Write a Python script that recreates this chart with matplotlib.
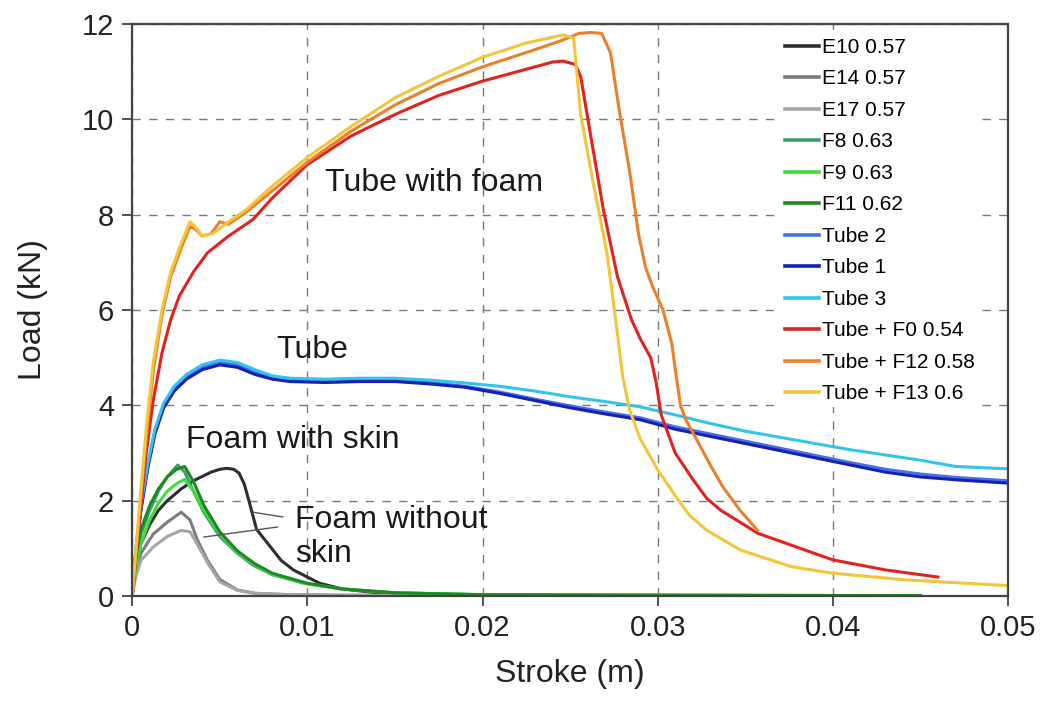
import matplotlib
matplotlib.use("Agg")
import matplotlib.pyplot as plt

plt.rcParams["font.family"] = ["Liberation Sans", "DejaVu Sans"]

# --- foam only ---
e10_x = [0, 0.0002, 0.0005, 0.001, 0.0015, 0.002, 0.0028, 0.0035, 0.0045, 0.005, 0.0054, 0.0058,
         0.0061, 0.0064, 0.0067, 0.0071, 0.0079, 0.0085, 0.0092, 0.0107, 0.012, 0.014, 0.017, 0.02]
e10_y = [0, 0.6, 1.1, 1.5, 1.8, 2.0, 2.25, 2.42, 2.6, 2.66, 2.68, 2.66,
         2.58, 2.35, 1.95, 1.4, 1.03, 0.75, 0.55, 0.27, 0.15, 0.07, 0.03, 0.02]

e_x = [0, 0.0002, 0.0005, 0.0012, 0.002, 0.0028, 0.0033, 0.0037, 0.0043, 0.005, 0.006, 0.007,
       0.009, 0.012, 0.02, 0.045]
e14_y = [0, 0.5, 0.9, 1.3, 1.55, 1.76, 1.6, 1.2, 0.75, 0.35, 0.13, 0.06, 0.03, 0.02, 0.01, 0.0]
e17_y = [0, 0.4, 0.75, 1.03, 1.25, 1.38, 1.35, 1.1, 0.7, 0.3, 0.12, 0.06, 0.03, 0.02, 0.01, 0.0]

f8_x = [0, 0.0002, 0.0005, 0.001, 0.0015, 0.002, 0.0026, 0.003, 0.0035, 0.0041, 0.005, 0.006,
        0.0069, 0.008, 0.0098, 0.012, 0.015, 0.02, 0.03, 0.045]
f8_y = [0, 0.7, 1.3, 1.8, 2.2, 2.5, 2.75, 2.6, 2.2, 1.75, 1.25, 0.9,
        0.65, 0.45, 0.27, 0.15, 0.07, 0.03, 0.02, 0.01]
f_x = [0, 0.0002, 0.0005, 0.001, 0.0015, 0.002, 0.0025, 0.003, 0.0035, 0.0041, 0.005, 0.006,
       0.007, 0.008, 0.010, 0.012, 0.015, 0.02, 0.03, 0.045]
f9_y = [0, 0.6, 1.1, 1.6, 1.95, 2.2, 2.35, 2.45, 2.2, 1.8, 1.3, 0.92,
        0.66, 0.46, 0.26, 0.15, 0.07, 0.03, 0.02, 0.01]
f11_y = [0, 0.8, 1.4, 1.9, 2.25, 2.5, 2.65, 2.72, 2.4, 1.9, 1.35, 0.95,
         0.68, 0.48, 0.27, 0.15, 0.07, 0.03, 0.02, 0.01]

# --- empty tubes ---
tube_x = [0, 0.0002, 0.0005, 0.0009, 0.0013, 0.0018, 0.0024, 0.0031, 0.004, 0.005, 0.006, 0.007,
          0.008, 0.009, 0.011, 0.013, 0.015, 0.017, 0.019, 0.021, 0.023, 0.025, 0.027, 0.029,
          0.031, 0.033, 0.035, 0.037, 0.039, 0.041, 0.043, 0.045, 0.047, 0.050]
tube1_y = [0, 0.9, 1.8, 2.7, 3.4, 3.95, 4.3, 4.55, 4.75, 4.85, 4.8, 4.65,
           4.55, 4.5, 4.48, 4.5, 4.5, 4.45, 4.38, 4.25, 4.1, 3.95, 3.82, 3.7,
           3.5, 3.35, 3.2, 3.05, 2.9, 2.75, 2.6, 2.5, 2.44, 2.37]
tube2_y = [0, 0.95, 1.85, 2.75, 3.45, 4.0, 4.35, 4.6, 4.8, 4.9, 4.85, 4.7,
           4.6, 4.55, 4.52, 4.53, 4.53, 4.48, 4.4, 4.28, 4.13, 3.99, 3.86, 3.74,
           3.55, 3.4, 3.25, 3.1, 2.95, 2.8, 2.66, 2.56, 2.49, 2.42]
tube3_y = [0, 0.95, 1.9, 2.8, 3.5, 4.05, 4.4, 4.65, 4.85, 4.95, 4.9, 4.75,
           4.62, 4.57, 4.55, 4.57, 4.57, 4.53, 4.47, 4.4, 4.3, 4.18, 4.08, 3.97,
           3.8, 3.62, 3.46, 3.33, 3.2, 3.07, 2.96, 2.85, 2.72, 2.67]

# --- tubes filled with foam ---
f0_x = [0, 0.0004, 0.0008, 0.0012, 0.0017, 0.0022, 0.0027, 0.0035, 0.0043, 0.0055, 0.0069, 0.008,
        0.010, 0.0125, 0.015, 0.0175, 0.020, 0.0225, 0.024, 0.0246, 0.0253, 0.0256, 0.0262, 0.0269,
        0.0277, 0.0285, 0.029, 0.0296, 0.0299, 0.0302, 0.031, 0.032, 0.0328, 0.0336, 0.0347,
        0.0357, 0.037, 0.040, 0.043, 0.046]
f0_y = [0, 1.5, 3.0, 4.1, 5.1, 5.8, 6.3, 6.8, 7.2, 7.55, 7.9, 8.35,
        9.05, 9.65, 10.1, 10.5, 10.8, 11.05, 11.2, 11.22, 11.15, 10.9, 9.6, 8.1,
        6.7, 5.8, 5.4, 5.0, 4.5, 3.8, 3.0, 2.45, 2.05, 1.8, 1.55,
        1.32, 1.15, 0.76, 0.55, 0.4]

f12_x = [0, 0.0004, 0.0008, 0.0012, 0.0017, 0.0022, 0.0028, 0.0033, 0.0036, 0.004, 0.0045, 0.005,
         0.0055, 0.0065, 0.008, 0.010, 0.0125, 0.015, 0.0175, 0.020, 0.0225, 0.0245, 0.0255, 0.0262,
         0.0268, 0.0273, 0.0278, 0.0284, 0.0289, 0.0293, 0.0297, 0.0303, 0.0308, 0.0311, 0.0313,
         0.0316, 0.0322, 0.033, 0.0337, 0.0347, 0.0357]
f12_y = [0, 1.7, 3.3, 4.7, 5.9, 6.7, 7.3, 7.75, 7.7, 7.55, 7.6, 7.85,
         7.8, 8.05, 8.5, 9.1, 9.75, 10.3, 10.75, 11.1, 11.4, 11.65, 11.8, 11.82,
         11.8, 11.4, 10.2, 8.9, 7.6, 6.9, 6.5, 6.0, 5.3, 4.5, 4.0,
         3.7, 3.3, 2.75, 2.3, 1.8, 1.38]

f13_x = [0, 0.0004, 0.0008, 0.0012, 0.0017, 0.0022, 0.0028, 0.0033, 0.0036, 0.0040, 0.0046, 0.0055,
         0.0065, 0.008, 0.010, 0.0125, 0.015, 0.0175, 0.020, 0.0225, 0.0246, 0.0252, 0.0256, 0.0263,
         0.0271, 0.0276, 0.0280, 0.0284, 0.029, 0.030, 0.0309, 0.0318, 0.0328, 0.0347, 0.0376,
         0.040, 0.0442, 0.050]
f13_y = [0, 1.8, 3.5, 4.9, 6.0, 6.8, 7.4, 7.85, 7.75, 7.55, 7.6, 7.85,
         8.1, 8.6, 9.2, 9.85, 10.45, 10.9, 11.3, 11.6, 11.77, 11.7, 10.1, 8.7,
         7.2, 5.8, 4.6, 3.9, 3.3, 2.65, 2.16, 1.7, 1.38, 0.97, 0.62,
         0.48, 0.34, 0.22]

series = [
    ("E10 0.57", e10_x, e10_y, "#2e2e2e"),
    ("E14 0.57", e_x, e14_y, "#7c7c7c"),
    ("E17 0.57", e_x, e17_y, "#a6a6a6"),
    ("F8 0.63", f8_x, f8_y, "#3d9c70"),
    ("F9 0.63", f_x, f9_y, "#3fdc3f"),
    ("F11 0.62", f_x, f11_y, "#1f8a22"),
    ("Tube 2", tube_x, tube2_y, "#4670e6"),
    ("Tube 1", tube_x, tube1_y, "#1620b4"),
    ("Tube 3", tube_x, tube3_y, "#32c4ea"),
    ("Tube + F0 0.54", f0_x, f0_y, "#e0231f"),
    ("Tube + F12 0.58", f12_x, f12_y, "#e9812a"),
    ("Tube + F13 0.6", f13_x, f13_y, "#f2c53a"),
]

fig = plt.figure(figsize=(10.49, 7.03), dpi=100)
ax = fig.add_axes([0.126, 0.152, 0.835, 0.814])

for label, xs, ys, c in series:
    ax.plot(xs, ys, color=c, lw=2.2, label=label, solid_joinstyle="round")

ax.set_xlim(0, 0.05)
ax.set_ylim(0, 12)
ax.set_xticks([0, 0.01, 0.02, 0.03, 0.04, 0.05])
ax.set_xticklabels(["0", "0.01", "0.02", "0.03", "0.04", "0.05"])
ax.set_yticks(range(0, 13, 2))
ax.tick_params(direction="out", length=7, width=1.2, labelsize=21, colors="#333333",
               labelcolor="#222222", pad=6)
ax.grid(True, color="#7a7a7a", lw=1.0, linestyle=(0, (6, 6)))
ax.set_axisbelow(True)
for s in ax.spines.values():
    s.set_color("#444444")
    s.set_linewidth(1.6)

ax.set_xlabel("Stroke (m)", fontsize=23, color="#222222", labelpad=12)
ax.set_ylabel("Load (kN)", fontsize=23, color="#222222", labelpad=24)

txt = dict(fontsize=23, color="#1a1a1a", va="center", ha="left")
ax.text(0.011, 8.66, "Tube with foam", **txt)
ax.text(0.0082, 5.16, "Tube", **txt)
ax.text(0.0031, 3.27, "Foam with skin", **txt)
ax.text(0.0093, 1.6, "Foam without", **txt)
ax.text(0.0093, 0.88, "skin", **txt)
ax.plot([0.0086, 0.0069], [1.66, 1.76], color="#555555", lw=1.0)
ax.plot([0.0083, 0.0041], [1.45, 1.24], color="#555555", lw=1.0)

leg = ax.legend(loc="upper left", bbox_to_anchor=(0.741, 0.983), borderaxespad=0,
                fontsize=15, frameon=True, framealpha=1, edgecolor="none", facecolor="white",
                handlelength=1.6, handletextpad=0.15, labelspacing=0.6, borderpad=0.2)
for h in leg.get_lines():
    h.set_linewidth(2.6)

fig.savefig("out.png", dpi=100, facecolor="white")
